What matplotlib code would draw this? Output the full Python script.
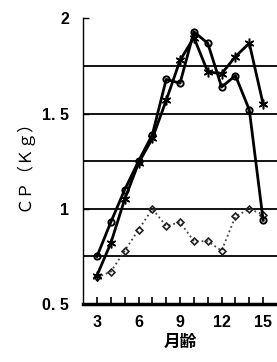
import matplotlib.pyplot as plt
import numpy as np

# data
months = [3, 4, 5, 6, 7, 8, 9, 10, 11, 12, 13, 14, 15]
cp_circle = [0.75, 0.93, 1.10, 1.25, 1.39, 1.68, 1.66, 1.93, 1.87, 1.64, 1.70, 1.52, 0.94]
cp_star = [0.65, 0.82, 1.05, 1.24, 1.37, 1.57, 1.78, 1.90, 1.72, 1.71, 1.80, 1.87, 1.55]
cp_diamond = [0.64, 0.67, 0.78, 0.89, 1.00, 0.91, 0.93, 0.83, 0.83, 0.78, 0.96, 1.00, 0.97]
y_ticks = [0.5, 1.0, 1.5, 2.0]
y_ticklabels = ['0. 5', '1', '1. 5', '2']
x_ticks = [3, 6, 9, 12, 15]
grid_levels = [0.75, 1.0, 1.25, 1.5, 1.75]

fig = plt.figure(figsize=(2.77, 3.62), dpi=100)
ax = fig.add_axes([0.30, 0.16, 0.70, 0.789])

for g in grid_levels:
    ax.axhline(g, color='black', lw=1.3, zorder=1)

ax.plot(months, cp_diamond, color='#444444', lw=1.3, ls=':', marker='D',
        ms=3.5, mfc='none', mec='#222222', mew=1.2, zorder=3)
ax.plot(months, cp_star, color='black', lw=2.0, marker=(6, 2, 0),
        ms=7, mew=1.1, zorder=4)
ax.plot(months, cp_circle, color='black', lw=2.0, marker='o',
        ms=4.5, mfc='none', mec='black', mew=1.4, zorder=5)

ax.set_xlim(2, 16)
ax.set_ylim(0.5, 2.0)

ax.spines['top'].set_visible(False)
ax.spines['right'].set_visible(False)
ax.spines['left'].set_linewidth(1.0)
ax.spines['bottom'].set_linewidth(2.5)

ax.set_yticks(y_ticks)
ax.set_yticklabels(y_ticklabels, fontfamily='Liberation Sans',
                   fontweight='bold', fontsize=11.5)
ax.set_xticks(x_ticks)
ax.set_xticklabels([str(m) for m in x_ticks], fontfamily='Liberation Sans',
                   fontweight='bold', fontsize=11.5)
ax.set_xticks(np.arange(3, 16), minor=True)
ax.tick_params(axis='x', which='both', direction='in', length=5, width=1.2, pad=8)
ax.tick_params(axis='y', direction='in', length=4, width=1.0, pad=10)

ax.set_xlabel('月齢', fontfamily=['Noto Sans CJK JP', 'DejaVu Sans'],
              fontweight='bold', fontsize=12, labelpad=2)
ax.set_ylabel('ＣＰ（Ｋｇ）', fontfamily=['Noto Sans CJK JP', 'DejaVu Sans'],
              fontsize=12, labelpad=7)

fig.savefig('out.png', dpi=100)
